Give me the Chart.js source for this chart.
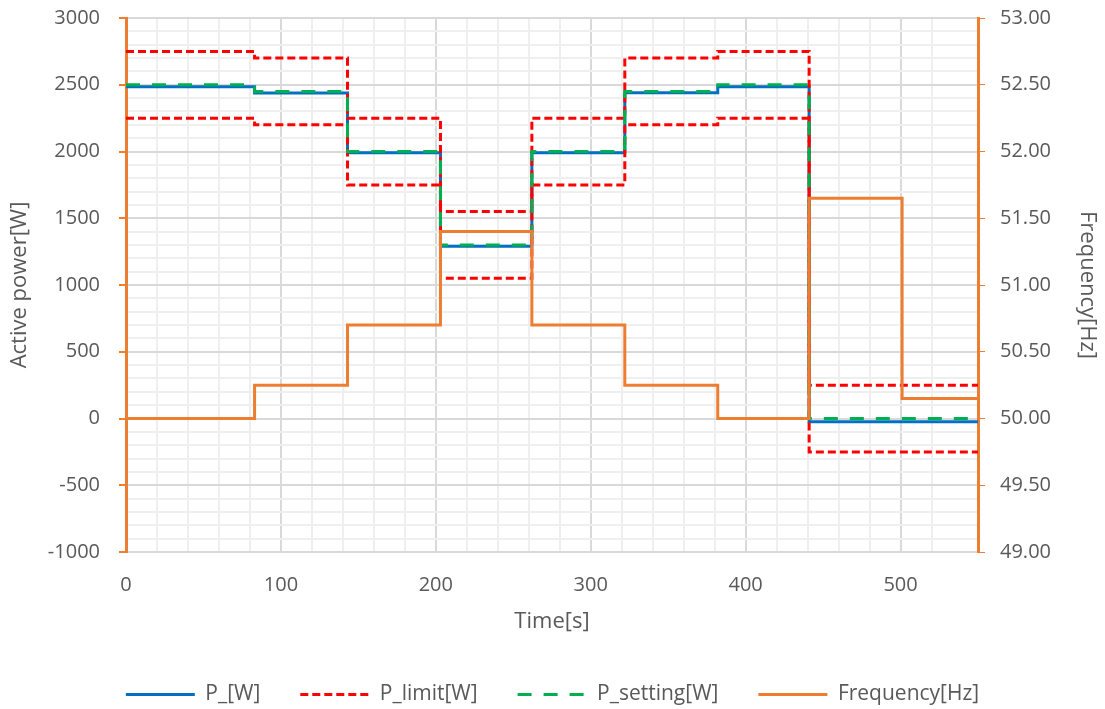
<!DOCTYPE html>
<html>
<head>
<meta charset="utf-8">
<script src="https://cdn.jsdelivr.net/npm/chart.js@4.4.0/dist/chart.umd.min.js"></script>
<style>
  html, body { margin: 0; padding: 0; background: #fff; }
</style>
</head>
<body>
<canvas id="chartLeistung" width="1105" height="709"></canvas>
<script>
// step start times [s], last value = end of record
const stepTimes = [0, 83, 143, 203, 262, 322, 382, 441, 501, 550];
const powerTimes = [0, 83, 143, 203, 262, 322, 382, 441, 550];

const pActual  = [2485, 2438, 1990, 1290, 1990, 2440, 2485, -25, -25];
const pSetting = [2500, 2450, 2000, 1300, 2000, 2450, 2500, 0, 0];
const pLimitHi = [2750, 2700, 2250, 1550, 2250, 2700, 2750, 250, 250];
const pLimitLo = [2250, 2200, 1750, 1050, 1750, 2200, 2250, -250, -250];
const frequency = [50.00, 50.25, 50.70, 51.40, 50.70, 50.25, 50.00, 51.65, 50.15, 50.15];

const labels = ['P_[W]', 'P_limit[W]', 'P_setting[W]', 'Frequency[Hz]'];

const GREY = '#595959';
const ORANGE = '#ED7D31';
const FONT = '"Open Sans", Lato, sans-serif';

function pts(xs, ys) {
  return xs.map((x, i) => ({ x: x, y: ys[i] }));
}

function line(label, data, color, dash, axis, order) {
  return {
    label: label,
    data: data,
    borderColor: color,
    backgroundColor: color,
    borderWidth: 3,
    borderDash: dash,
    pointRadius: 0,
    stepped: true,
    yAxisID: axis,
    order: order
  };
}

// legend samples: line with the dataset's own dash
function legendLabels(chart) {
  const items = Chart.defaults.plugins.legend.labels.generateLabels(chart);
  return items.map(item => {
    const ds = chart.data.datasets[item.datasetIndex];
    item.lineDash = ds.borderDash;
    item.strokeStyle = ds.borderColor;
    item.lineWidth = 3;
    return item;
  });
}

new Chart(document.getElementById('chartLeistung'), {
  type: 'line',
  data: {
    datasets: [
      line(labels[0], pts(powerTimes, pActual), '#0070C0', [], 'y', 3),
      line(labels[1], pts(powerTimes, pLimitHi), '#FF0000', [8, 4], 'y', 2),
      line(labels[1], pts(powerTimes, pLimitLo), '#FF0000', [8, 4], 'y', 2),
      line(labels[2], pts(powerTimes, pSetting), '#00B050', [14, 12], 'y', 1),
      line(labels[3], pts(stepTimes, frequency), ORANGE, [], 'y1', 0)
    ]
  },
  options: {
    responsive: false,
    animation: false,
    layout: { padding: { top: 18, left: 0, right: 0, bottom: 0 } },
    plugins: {
      tooltip: { enabled: false },
      legend: {
        position: 'bottom',
        maxHeight: 65,
        labels: {
          color: GREY,
          font: { family: FONT, size: 21 },
          usePointStyle: true,
          pointStyle: 'line',
          pointStyleWidth: 69,
          padding: 40,
          generateLabels: legendLabels,
          filter: item => item.datasetIndex !== 2,
          sort: (a, b) => a.datasetIndex - b.datasetIndex
        }
      }
    },
    scales: {
      x: {
        type: 'linear',
        min: 0,
        max: 550,
        border: { display: false },
        grid: {
          drawTicks: false,
          lineWidth: 2,
          color: c => (c.tick && c.tick.value % 100 === 0) ? '#d9d9d9' : '#efefef'
        },
        ticks: {
          stepSize: 20,
          autoSkip: false,
          maxRotation: 0,
          padding: 21,
          color: GREY,
          font: { family: FONT, size: 20 },
          callback: v => (v % 100 === 0 ? String(v) : '')
        },
        title: {
          display: true,
          text: 'Time[s]',
          color: GREY,
          font: { family: FONT, size: 22 },
          padding: { top: 4, bottom: 9 }
        },
        afterFit: s => { s.height = 92; }
      },
      y: {
        position: 'left',
        min: -1000,
        max: 3000,
        border: { color: ORANGE, width: 3 },
        grid: {
          lineWidth: 2,
          tickLength: 7,
          color: c => (c.tick && c.tick.value % 500 === 0) ? '#d9d9d9' : '#efefef',
          tickColor: c => (c.tick && c.tick.value % 500 === 0) ? ORANGE : 'rgba(0,0,0,0)'
        },
        ticks: {
          stepSize: 100,
          autoSkip: false,
          padding: 19,
          color: GREY,
          font: { family: FONT, size: 20 },
          callback: v => (v % 500 === 0 ? String(v) : '')
        },
        title: {
          display: true,
          text: 'Active power[W]',
          color: GREY,
          font: { family: FONT, size: 22 },
          padding: { top: 7, bottom: 0 }
        },
        afterFit: s => { s.width = 126; s.paddingTop = 10; s.paddingBottom = 10; }
      },
      y1: {
        position: 'right',
        min: 49,
        max: 53,
        border: { color: ORANGE, width: 3 },
        grid: {
          drawOnChartArea: false,
          tickLength: 7,
          tickColor: ORANGE
        },
        ticks: {
          stepSize: 0.5,
          padding: 15,
          color: GREY,
          font: { family: FONT, size: 20 },
          callback: v => v.toFixed(2)
        },
        title: {
          display: true,
          text: 'Frequency[Hz]',
          color: GREY,
          font: { family: FONT, size: 22 },
          padding: { top: 5, bottom: 0 }
        },
        afterFit: s => { s.width = 127; s.paddingTop = 10; s.paddingBottom = 10; }
      }
    }
  }
});
</script>
</body>
</html>
